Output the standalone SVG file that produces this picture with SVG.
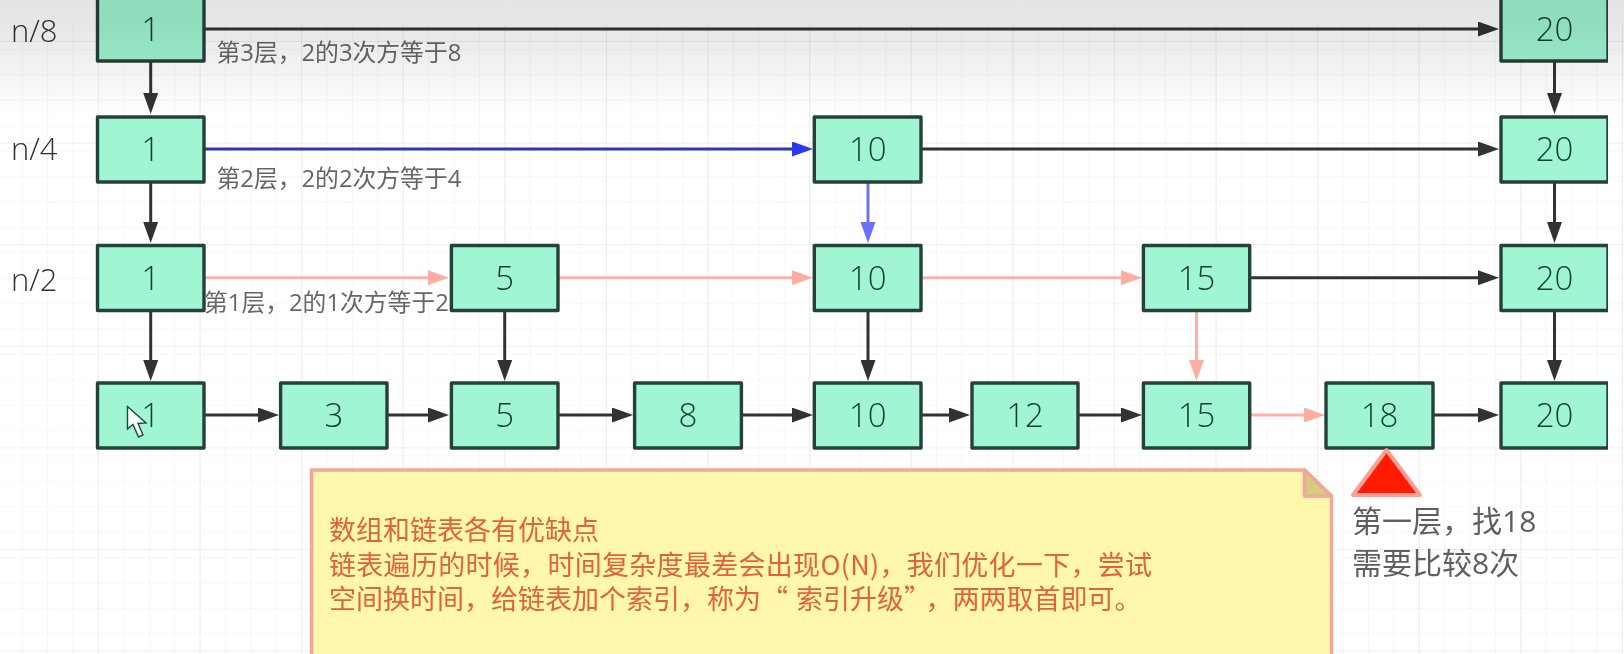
<svg xmlns="http://www.w3.org/2000/svg" width="1624" height="654" viewBox="0 0 1624 654">
<style>
.n rect{fill:#a0f5d2;stroke:#27403a;stroke-width:3.4;stroke-linejoin:round}
.n text{font:300 33px "Open Sans","Noto Sans",sans-serif;fill:#123f32;text-anchor:middle}
.c line{stroke-width:3;fill:none}
.k{stroke:#333}
.p{stroke:#ffb0a6}
.b{stroke:#2f38ac}
.v{stroke:#6f74e0}
.lab{font:23.800px "Open Sans","Noto Sans CJK SC",sans-serif;fill:#666}
.lev{font:300 31px "Open Sans","Noto Sans",sans-serif;fill:#333}
.cap{font:30px "Open Sans","Noto Sans CJK SC",sans-serif;fill:#5f5f5f}
.note{font:27px "Noto Sans CJK SC",sans-serif;fill:#e0633a}
</style>
<defs>
<pattern id="minor" width="25.4" height="25.4" patternUnits="userSpaceOnUse" x="-2.7" y="-0.7">
<path d="M25.4 0V25.4M0 25.4H25.4" stroke="#f5f5f5" stroke-width="1.6" fill="none"/>
</pattern>
<pattern id="major" width="101.6" height="101.6" patternUnits="userSpaceOnUse" x="-2.6" y="-59.6">
<path d="M101.6 0V101.6M0 101.6H101.6" stroke="#eeeeee" stroke-width="2" fill="none"/>
</pattern>
<linearGradient id="shade" x1="0" y1="0" x2="0" y2="1">
<stop offset="0" stop-color="#000" stop-opacity=".105"/>
<stop offset=".22" stop-color="#000" stop-opacity=".095"/>
<stop offset="1" stop-color="#000" stop-opacity="0"/>
</linearGradient>
<marker id="ak" markerUnits="userSpaceOnUse" markerWidth="21" markerHeight="15" viewBox="0 0 21 15" refX="9" refY="7.5" orient="auto"><path d="M0 0L21 7.5L0 15z" fill="#333"/></marker>
<marker id="ap" markerUnits="userSpaceOnUse" markerWidth="21" markerHeight="15" viewBox="0 0 21 15" refX="9" refY="7.5" orient="auto"><path d="M0 0L21 7.5L0 15z" fill="#ffaca2"/></marker>
<marker id="ab" markerUnits="userSpaceOnUse" markerWidth="21" markerHeight="15" viewBox="0 0 21 15" refX="9" refY="7.5" orient="auto"><path d="M0 0L21 7.5L0 15z" fill="#2c38f0"/></marker>
<marker id="av" markerUnits="userSpaceOnUse" markerWidth="21" markerHeight="15" viewBox="0 0 21 15" refX="9" refY="7.5" orient="auto"><path d="M0 0L21 7.5L0 15z" fill="#6a70ff"/></marker>
<filter id="soft" x="0" y="0" width="1" height="1"><feGaussianBlur stdDeviation="0.45"/></filter>
</defs>
<rect width="1624" height="654" fill="#fff"/>
<g id="grid">
<rect y="25" width="1624" height="629" fill="url(#minor)"/>
<rect y="25" width="1624" height="629" fill="url(#major)"/>
</g>
<g filter="url(#soft)">
<g id="connectors" class="c">
<line class="k" x1="204" y1="29" x2="1487" y2="29" marker-end="url(#ak)"/>
<line class="b" x1="204" y1="149" x2="801" y2="149" marker-end="url(#ab)"/>
<line class="k" x1="921" y1="149" x2="1487" y2="149" marker-end="url(#ak)"/>
<line class="p" x1="204" y1="277.7" x2="437" y2="277.7" marker-end="url(#ap)"/>
<line class="p" x1="558" y1="277.7" x2="801" y2="277.7" marker-end="url(#ap)"/>
<line class="p" x1="921" y1="277.7" x2="1130" y2="277.7" marker-end="url(#ap)"/>
<line class="k" x1="1250" y1="277.7" x2="1487" y2="277.7" marker-end="url(#ak)"/>
<line class="k" x1="204" y1="415" x2="267" y2="415" marker-end="url(#ak)"/>
<line class="k" x1="387" y1="415" x2="437" y2="415" marker-end="url(#ak)"/>
<line class="k" x1="558" y1="415" x2="621" y2="415" marker-end="url(#ak)"/>
<line class="k" x1="741" y1="415" x2="801" y2="415" marker-end="url(#ak)"/>
<line class="k" x1="921" y1="415" x2="958" y2="415" marker-end="url(#ak)"/>
<line class="k" x1="1078" y1="415" x2="1130" y2="415" marker-end="url(#ak)"/>
<line class="p" x1="1250" y1="415" x2="1313" y2="415" marker-end="url(#ap)"/>
<line class="k" x1="1433" y1="415" x2="1487" y2="415" marker-end="url(#ak)"/>
<line class="k" x1="150.7" y1="61" x2="150.7" y2="102" marker-end="url(#ak)"/>
<line class="k" x1="150.7" y1="182" x2="150.7" y2="231" marker-end="url(#ak)"/>
<line class="k" x1="150.7" y1="310" x2="150.7" y2="369" marker-end="url(#ak)"/>
<line class="k" x1="504.7" y1="310" x2="504.7" y2="369" marker-end="url(#ak)"/>
<line class="v" x1="868" y1="182" x2="868" y2="231" marker-end="url(#av)"/>
<line class="k" x1="868" y1="310" x2="868" y2="369" marker-end="url(#ak)"/>
<line class="p" x1="1196.5" y1="310" x2="1196.5" y2="369" marker-end="url(#ap)"/>
<line class="k" x1="1554.5" y1="61" x2="1554.5" y2="102" marker-end="url(#ak)"/>
<line class="k" x1="1554.5" y1="182" x2="1554.5" y2="231" marker-end="url(#ak)"/>
<line class="k" x1="1554.5" y1="310" x2="1554.5" y2="369" marker-end="url(#ak)"/>
</g>
<g id="n8-1" class="n"><rect x="97.5" y="-4" width="106.5" height="65"/><text x="150.7" y="40.500">1</text></g>
<g id="n8-20" class="n"><rect x="1501" y="-4" width="107" height="65"/><text x="1554.500" y="40.500">20</text></g>
<g id="n4-1" class="n"><rect x="97.5" y="117" width="106.5" height="65"/><text x="150.7" y="161">1</text></g>
<g id="n4-10" class="n"><rect x="814.3" y="117" width="106.7" height="65"/><text x="867.7" y="161">10</text></g>
<g id="n4-20" class="n"><rect x="1501" y="117" width="107" height="65"/><text x="1554.5" y="161">20</text></g>
<g id="n2-1" class="n"><rect x="97.5" y="245.5" width="106.5" height="65"/><text x="150.7" y="289.500">1</text></g>
<g id="n2-5" class="n"><rect x="451.4" y="245.5" width="106.6" height="65"/><text x="504.7" y="289.500">5</text></g>
<g id="n2-10" class="n"><rect x="814.3" y="245.5" width="106.7" height="65"/><text x="867.7" y="289.500">10</text></g>
<g id="n2-15" class="n"><rect x="1143.4" y="245.5" width="106.3" height="65"/><text x="1196.5" y="289.500">15</text></g>
<g id="n2-20" class="n"><rect x="1501" y="245.5" width="107" height="65"/><text x="1554.5" y="289.500">20</text></g>
<g id="n1-1" class="n"><rect x="97.5" y="383" width="106.5" height="65"/><text x="150.7" y="427">1</text></g>
<g id="n1-3" class="n"><rect x="280.600" y="383" width="106.4" height="65"/><text x="333.800" y="427">3</text></g>
<g id="n1-5" class="n"><rect x="451.4" y="383" width="106.6" height="65"/><text x="504.700" y="427">5</text></g>
<g id="n1-8" class="n"><rect x="634.600" y="383" width="106.8" height="65"/><text x="688" y="427">8</text></g>
<g id="n1-10" class="n"><rect x="814.300" y="383" width="106.7" height="65"/><text x="867.700" y="427">10</text></g>
<g id="n1-12" class="n"><rect x="972" y="383" width="106" height="65"/><text x="1025" y="427">12</text></g>
<g id="n1-15" class="n"><rect x="1143.400" y="383" width="106.3" height="65"/><text x="1196.500" y="427">15</text></g>
<g id="n1-18" class="n"><rect x="1326" y="383" width="107" height="65"/><text x="1379.500" y="427">18</text></g>
<g id="n1-20" class="n"><rect x="1501" y="383" width="107" height="65"/><text x="1554.500" y="427">20</text></g>
<text class="lev" x="11" y="41.500">n/8</text>
<text class="lev" x="11" y="160">n/4</text>
<text class="lev" x="11" y="290.500">n/2</text>
<text class="lab" x="216.500" y="61">第3层，2的3次方等于8</text>
<text class="lab" x="216.500" y="186.500">第2层，2的2次方等于4</text>
<text class="lab" x="204" y="310.500">第1层，2的1次方等于2</text>
<g id="note">
<path d="M311.500 470H1304.500L1331.500 496V660H311.500z" fill="#fff7ac" stroke="#f0a898" stroke-width="3.600"/>
<path d="M1304.500 470L1331.500 496H1304.500z" fill="#d6cc7f" stroke="#f0a898" stroke-width="3.600" stroke-linejoin="round"/>
<text class="note" x="329" y="540">数组和链表各有优缺点</text>
<text class="note" x="329" y="574.500" letter-spacing=".3">链表遍历的时候，时间复杂度最差会出现O(N)，我们优化一下，尝试</text>
<text class="note" x="329" y="608.500">空间换时间，给链表加个索引，称为“<tspan dx="8">索引升级</tspan>”<tspan dx="8">，两两取首即可。</tspan></text>
</g>
<g id="marker-triangle"><path d="M1386.500 450L1420 495H1353z" fill="#ff1a00" stroke="#ff9e94" stroke-width="4" stroke-linejoin="round"/></g>
<text class="cap" x="1352" y="532">第一层，找18</text>
<text class="cap" x="1352" y="573.500">需要比较8次</text>
<path d="M127.500 406.500V429L133 424.500L138.500 437L143 435L138 423.500L146 423z" fill="#f4fff9" stroke="#1d4a3c" stroke-width="1.400"/>
</g>
<rect width="1624" height="117" fill="url(#shade)"/>
</svg>
